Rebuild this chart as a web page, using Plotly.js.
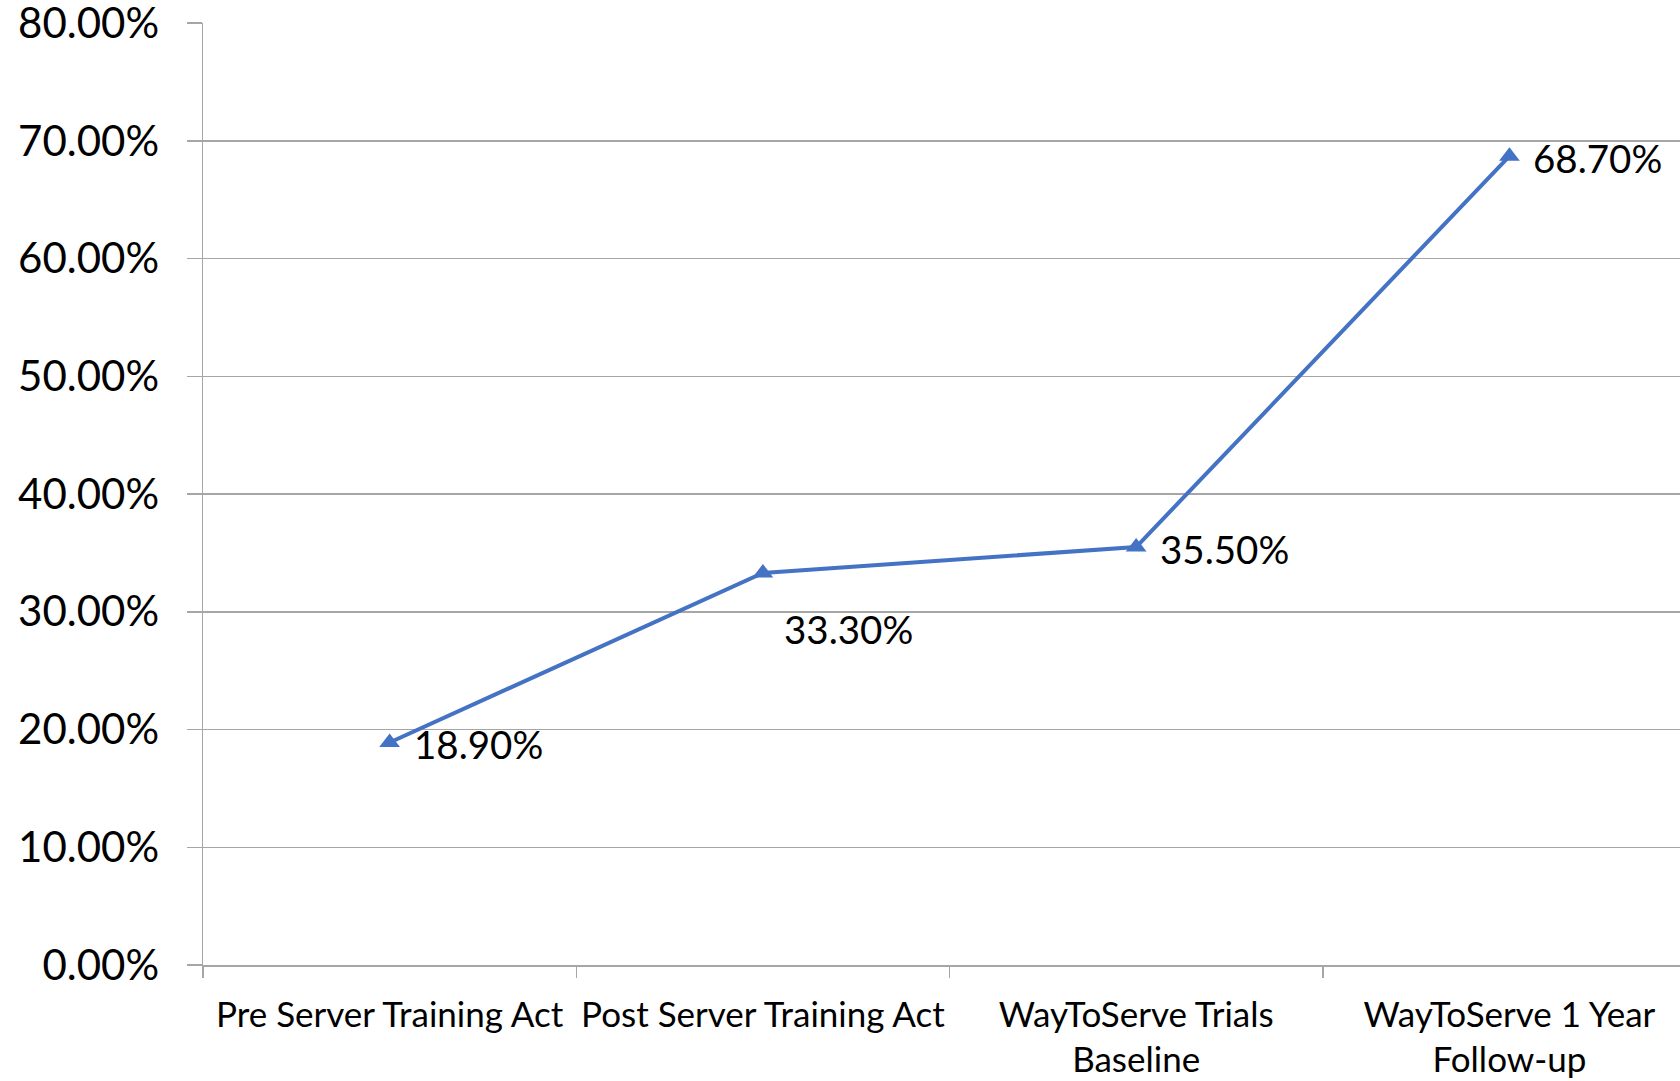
<!DOCTYPE html>
<html>
<head>
<meta charset="utf-8">
<script src="https://cdn.plot.ly/plotly-3.0.1.min.js"></script>
<style>html,body{margin:0;padding:0;background:#fff;}#chart{width:1680px;height:1081px;}</style>
</head>
<body>
<div id="chart"></div>
<script>
const categories = ["Pre Server Training Act", "Post Server Training Act", "WayToServe Trials Baseline", "WayToServe 1 Year Follow-up"];
const tickLabels = ["Pre Server Training Act", "Post Server Training Act", "WayToServe Trials<br>Baseline", "WayToServe 1 Year<br>Follow-up"];
const values = [0.189, 0.333, 0.355, 0.687];
const valueLabels = ["18.90%", "33.30%", "35.50%", "68.70%"];
const yTicks = [0, 0.1, 0.2, 0.3, 0.4, 0.5, 0.6, 0.7, 0.8];

const FONT = "Lato, 'Open Sans', sans-serif";
const GRID = "#a6a6a6";

const labelShift = [[22, -2, "left"], [86, -56, "center"], [22, -2, "left"], [22, -2, "left"]];

const annotations = categories.map((c, i) => ({
  x: c, y: values[i], xref: "x", yref: "y",
  text: valueLabels[i], showarrow: false,
  xanchor: labelShift[i][2], yanchor: "middle",
  xshift: labelShift[i][0], yshift: labelShift[i][1],
  font: {family: FONT, size: 38.5, color: "#000"}
}));

const trace = {
  x: categories, y: values, type: "scatter", mode: "lines+markers",
  line: {color: "#4472C4", width: 4},
  marker: {symbol: "triangle-up", size: 18, color: "#4472C4"},
  hoverinfo: "skip"
};

const layout = {
  width: 1680, height: 1081,
  margin: {l: 203, r: 0, t: 23, b: 116, pad: 0},
  paper_bgcolor: "#fff", plot_bgcolor: "#fff",
  showlegend: false,
  font: {family: FONT, color: "#000"},
  xaxis: {
    type: "category",
    range: [-0.5, 3.457],
    tickmode: "array", tickvals: categories, ticktext: tickLabels,
    tickson: "boundaries",
    tickangle: 0,
    ticks: "outside", ticklen: 11, tickwidth: 1.5, tickcolor: GRID,
    showline: true, linecolor: GRID, linewidth: 1.5,
    showgrid: false, zeroline: false,
    tickfont: {family: FONT, size: 35, color: "#000"},
    ticklabelstandoff: 18,
    ticklabeloverflow: "allow",
    fixedrange: true
  },
  yaxis: {
    range: [0, 0.8001],
    tickmode: "array", tickvals: yTicks,
    tickformat: ".2%",
    ticks: "outside", ticklen: 15, tickwidth: 1.5, tickcolor: GRID,
    showline: true, linecolor: GRID, linewidth: 1.5,
    showgrid: true, gridcolor: GRID, gridwidth: 1.5,
    zeroline: false,
    tickfont: {family: FONT, size: 42, color: "#000"},
    ticklabelstandoff: 19,
    ticklabeloverflow: "allow",
    fixedrange: true
  },
  annotations: annotations
};

Plotly.newPlot("chart", [trace], layout, {displayModeBar: false, staticPlot: true});
</script>
</body>
</html>
